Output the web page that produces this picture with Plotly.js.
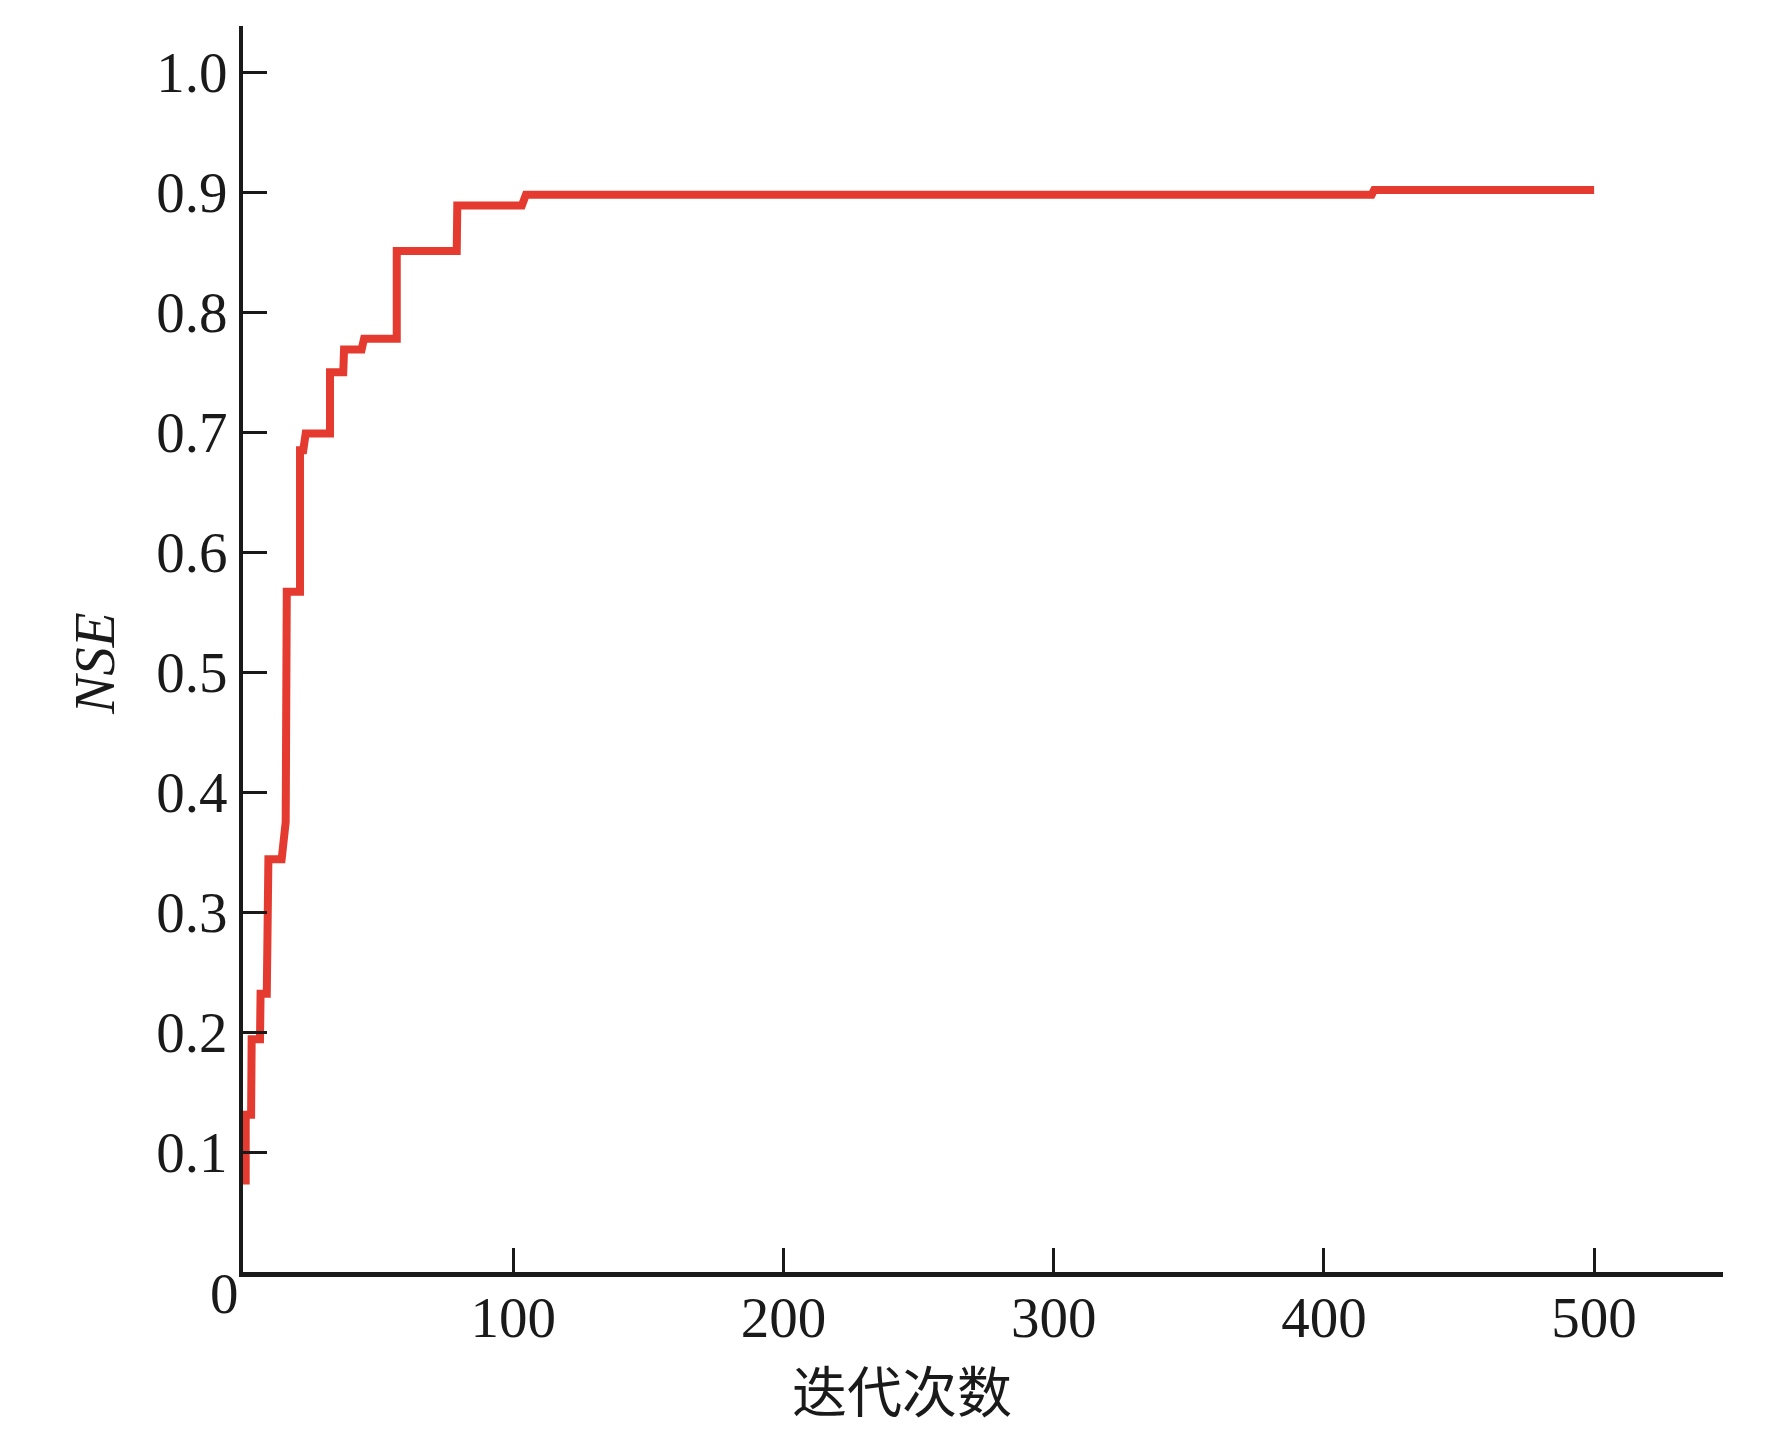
<!DOCTYPE html>
<html>
<head>
<meta charset="utf-8">
<script src="https://cdn.plot.ly/plotly-3.0.1.min.js"></script>
<style>html,body{margin:0;padding:0;background:#fff;}#chart{width:1772px;height:1444px;}</style>
</head>
<body>
<div id="chart"></div>
<script>
// Iteration number (x) and NSE (y)
const iterations = [1, 1, 3, 3.2, 6.3, 6.5, 8.8, 9.4, 14.3, 15.2, 15.8, 16.2, 21.1, 21.1, 22.3, 23.2, 32.2, 32.2, 37.1, 37.4, 43.9, 44.8, 56.9, 56.9, 79.1, 79.3, 103.2, 104.7, 417.7, 418.6, 500];
const nse        = [0.073, 0.131, 0.131, 0.194, 0.194, 0.232, 0.232, 0.344, 0.344, 0.375, 0.375, 0.567, 0.567, 0.685, 0.685, 0.699, 0.699, 0.750, 0.750, 0.769, 0.769, 0.778, 0.778, 0.851, 0.851, 0.889, 0.889, 0.898, 0.898, 0.902, 0.902];

const xTickVals = [100, 200, 300, 400, 500];
const xTickText = ['100', '200', '300', '400', '500'];
const yTickVals = [0.1, 0.2, 0.3, 0.4, 0.5, 0.6, 0.7, 0.8, 0.9, 1.0];
const yTickText = ['0.1', '0.2', '0.3', '0.4', '0.5', '0.6', '0.7', '0.8', '0.9', '1.0'];
const xTitle = '迭代次数';
const yTitle = 'NSE';
const originLabel = '0';

const serif = '"Liberation Serif", "Times New Roman", serif';
const axisColor = '#1a1a1a';

const trace = {
  x: iterations,
  y: nse,
  type: 'scatter',
  mode: 'lines',
  line: {color: '#E53A2F', width: 8},
  hoverinfo: 'skip'
};

const layout = {
  width: 1772,
  height: 1444,
  margin: {l: 243, r: 49, t: 26, b: 172},
  paper_bgcolor: '#ffffff',
  plot_bgcolor: '#ffffff',
  showlegend: false,
  font: {family: serif, color: axisColor, size: 57},
  xaxis: {
    range: [0, 547.7],
    tickvals: xTickVals,
    ticktext: xTickText,
    ticks: 'inside',
    ticklen: 24,
    tickwidth: 3,
    tickcolor: axisColor,
    showline: true,
    linecolor: axisColor,
    linewidth: 5,
    showgrid: false,
    zeroline: false,
    tickfont: {family: serif, size: 57, color: axisColor},
    ticklabelstandoff: -8
  },
  yaxis: {
    range: [0, 1.0386],
    tickvals: yTickVals,
    ticktext: yTickText,
    ticks: 'inside',
    ticklen: 24,
    tickwidth: 3,
    tickcolor: axisColor,
    showline: true,
    linecolor: axisColor,
    linewidth: 4,
    showgrid: false,
    zeroline: false,
    tickfont: {family: serif, size: 57, color: axisColor},
    ticklabelstandoff: 0
  },
  annotations: [
    {
      text: xTitle, xref: 'x', yref: 'paper', x: 244, y: -0.093,
      xanchor: 'center', yanchor: 'middle', showarrow: false,
      font: {family: '"Noto Sans CJK SC", sans-serif', size: 55, color: axisColor}
    },
    {
      text: '<i>' + yTitle + '</i>', xref: 'paper', yref: 'y', x: -0.1, y: 0.507,
      xanchor: 'center', yanchor: 'middle', showarrow: false, textangle: -90,
      font: {family: serif, size: 57, color: axisColor}
    },
    {
      text: originLabel, xref: 'paper', yref: 'paper', x: -0.0128, y: -0.0174,
      xanchor: 'center', yanchor: 'middle', showarrow: false,
      font: {family: serif, size: 57, color: axisColor}
    }
  ]
};

Plotly.newPlot('chart', [trace], layout, {displayModeBar: false, staticPlot: true});
</script>
</body>
</html>
